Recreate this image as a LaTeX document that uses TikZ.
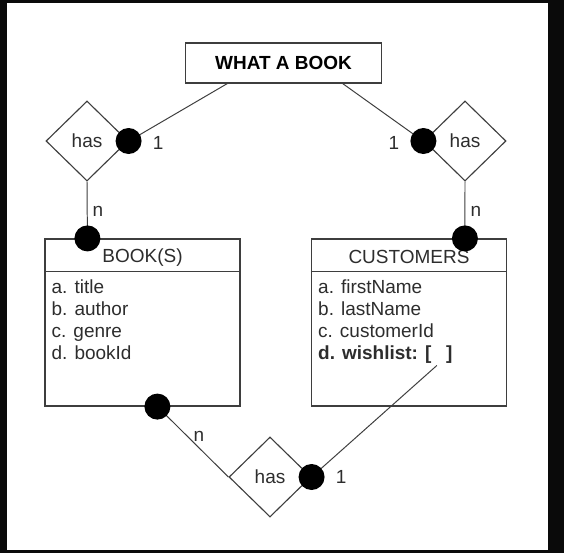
\documentclass[tikz,border=0pt]{standalone}
\usepackage{fontspec}
\setmainfont{Liberation Sans}
\usetikzlibrary{positioning, shapes.geometric, calc}
\definecolor{erline}{RGB}{62, 62, 62}
\definecolor{ertext}{RGB}{45, 45, 45}

\begin{document}
\begin{tikzpicture}[
  x=0.025cm, y=-0.025cm,
  font=\fontsize{13.5}{15.6}\selectfont,
  titlebox/.style={rectangle, draw=erline, line width=0.8pt, minimum width=4.9cm,
                   minimum height=1cm, inner sep=0pt, font=\fontsize{13.5}{15.6}\selectfont\bfseries},
  entity/.style={rectangle, draw=erline, line width=0.8pt, minimum width=4.875cm,
                 minimum height=4.175cm, inner sep=0pt},
  relation/.style={diamond, draw=erline, line width=0.8pt, fill=white, minimum width=2.05cm,
                   minimum height=2cm, inner sep=0pt, text=ertext},
  dot/.style={circle, fill=black, minimum size=0.65cm, inner sep=0pt},
  card/.style={inner sep=0pt, text=ertext},
  attrs/.style={align=left, inner sep=0pt, text=ertext, anchor=north west},
  link/.style={erline, line width=0.7pt}
]
% frame
\fill[black!96] (0,0) rectangle (564,553);
\fill[white] (7,3) rectangle (548,550);
\useasboundingbox (0,0) rectangle (564,553);

\node[titlebox] (book) at (283.5,63) {WHAT A BOOK};

\node[entity] (books) at (142.5,322.5) {};
\node[entity] (customers) at (409,322.5) {};
\draw[link] ($(books.north west)+(0,33)$) -- ($(books.north east)+(0,33)$);
\draw[link] ($(customers.north west)+(0,33)$) -- ($(customers.north east)+(0,33)$);
\node[card] (bookstitle) at ($(books.north)+(0,19)$) {BOOK(S)};
\node[card] (customerstitle) at ($(customers.north)+(0,19)$) {CUSTOMERS};
\node[attrs] (bookattrs) at ($(books.north west)+(7,41)$)
  {a. title\\ b. author\\ c. genre\\ d. bookId};
\node[attrs] (customerattrs) at ($(customers.north west)+(7,41)$)
  {a. firstName\\ b. lastName\\ c. customerId\\ \textbf{d. wishlist: [\,\,\, ]}};
\coordinate (wish) at ($(customers.north west)+(126,127)$);

\node[relation] (hasbooks) at (87,141) {has};
\node[relation] (hascustomers) at (465,141) {has};
\node[relation] (haswish) at (270,477) {has};

% connectors
\draw[link] ($(book.south west)!0.215!(book.south east)$) -- (129,141);
\draw[link] ($(book.south west)!0.8!(book.south east)$) -- (423,141);
\draw[link] (hasbooks.south) -- ($(books.north west)+(43,0)$);
\draw[link] (hascustomers.south) -- ($(customers.north west)+(154,0)$);
\draw[link] ($(books.south west)+(113,0)$) -- (haswish.west);
\draw[link] (haswish.east) -- (wish);

% dots
\node[dot] (hasbooksdot) at (hasbooks.east) {};
\node[dot] (hascustomersdot) at (hascustomers.west) {};
\node[dot] (booksdot) at ($(books.north west)+(43,0)$) {};
\node[dot] (customersdot) at ($(customers.north west)+(154,0)$) {};
\node[dot] (bookswishdot) at ($(books.south west)+(113,0)$) {};
\node[dot] (haswishdot) at (haswish.east) {};

% cardinalities
\node[card, right=0.27cm of hasbooksdot, yshift=-0.06cm] {1};
\node[card, left=0.27cm of hascustomersdot, yshift=-0.04cm] {1};
\node[card] at (98,211) {n};
\node[card] at (476,211) {n};
\node[card] at (199,436) {n};
\node[card, right=0.6cm of haswish.east] {1};
\end{tikzpicture}
\end{document}
